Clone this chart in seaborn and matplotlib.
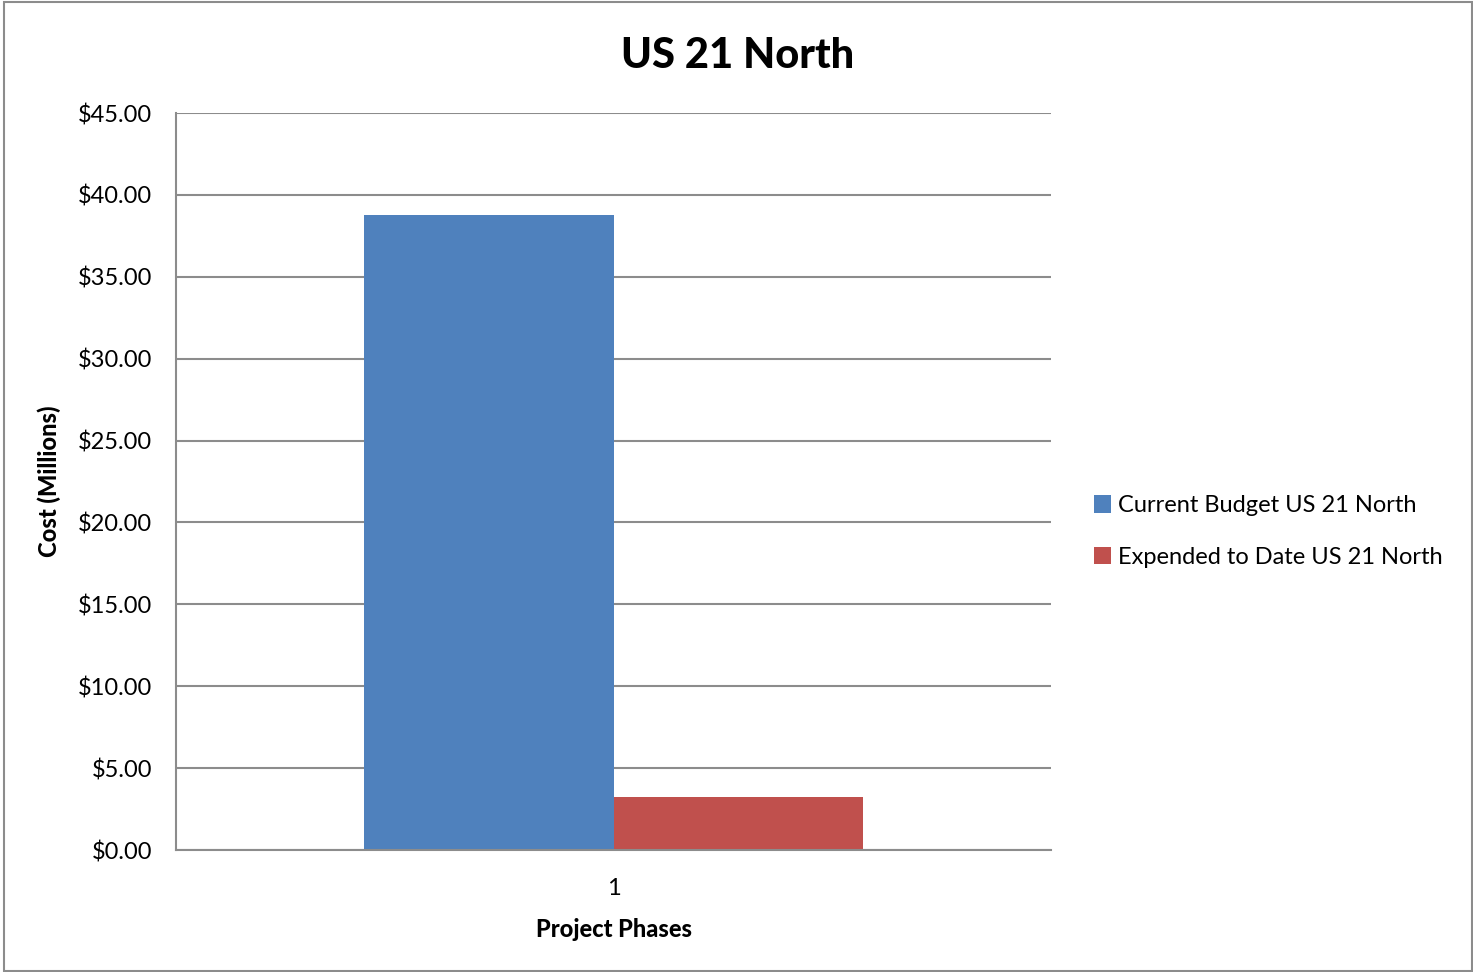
import matplotlib
matplotlib.use("Agg")
import matplotlib.pyplot as plt
import matplotlib.ticker as mticker
import seaborn as sns
import pandas as pd

# data (millions of dollars)
phases = ["1", "1"]
series = ["Current Budget US 21 North", "Expended to Date US 21 North"]
costs = [38.77, 3.24]
colors = ["#4F81BD", "#C0504D"]

df = pd.DataFrame({"phase": phases, "series": series, "cost": costs})

sns.set_style("white")
plt.rcParams["font.family"] = ["Lato", "DejaVu Sans"]
plt.rcParams["text.color"] = "black"
plt.rcParams["axes.labelcolor"] = "black"
plt.rcParams["xtick.color"] = "black"
plt.rcParams["ytick.color"] = "black"

fig = plt.figure(figsize=(14.73, 9.72), dpi=100)
ax = fig.add_axes([0.1195, 0.1255, 0.594, 0.7582])

sns.barplot(data=df, x="phase", y="cost", hue="series", palette=colors,
            width=0.571, saturation=1, ax=ax, legend=True)
for p in ax.patches:
    p.set_edgecolor("none")

ax.set_xlim(-0.5, 0.5)
ax.set_ylim(0, 45)
ax.set_yticks(range(0, 46, 5))
ax.yaxis.set_major_formatter(mticker.StrMethodFormatter("${x:.2f}"))
ax.grid(axis="y", color="#8c8c8c", linewidth=1.5)
ax.set_axisbelow(True)
for s in ["top", "right"]:
    ax.spines[s].set_visible(False)
ax.spines["left"].set_color("#8c8c8c")
ax.spines["bottom"].set_color("#8c8c8c")
ax.spines["left"].set_linewidth(1.5)
ax.spines["bottom"].set_linewidth(1.5)
ax.tick_params(axis="y", length=9, width=1.5, color="#8c8c8c", labelcolor="black",
               labelsize=17, pad=8)
ax.tick_params(axis="x", length=0, labelsize=17, pad=20)

ax.set_xlabel("Project Phases", fontsize=17, fontweight="black", labelpad=14)
ax.set_ylabel("Cost (Millions)", fontsize=17, fontweight="black", labelpad=12)
fig.suptitle("US 21 North", fontsize=30, fontweight="black", x=0.501, y=0.962)

handles, labels = ax.get_legend_handles_labels()
ax.legend(handles, labels, loc="center left", bbox_to_anchor=(1.038, 0.432),
          frameon=False, fontsize=17, handlelength=0.75, handleheight=0.75,
          handletextpad=0.3, labelspacing=1.3, borderaxespad=0)

# outer chart border
fig.patches.append(plt.Rectangle((0.003, 0.001), 0.996, 0.997, transform=fig.transFigure,
                                 fill=False, edgecolor="#8c8c8c", linewidth=1.5))

fig.savefig("out.png", dpi=100)
